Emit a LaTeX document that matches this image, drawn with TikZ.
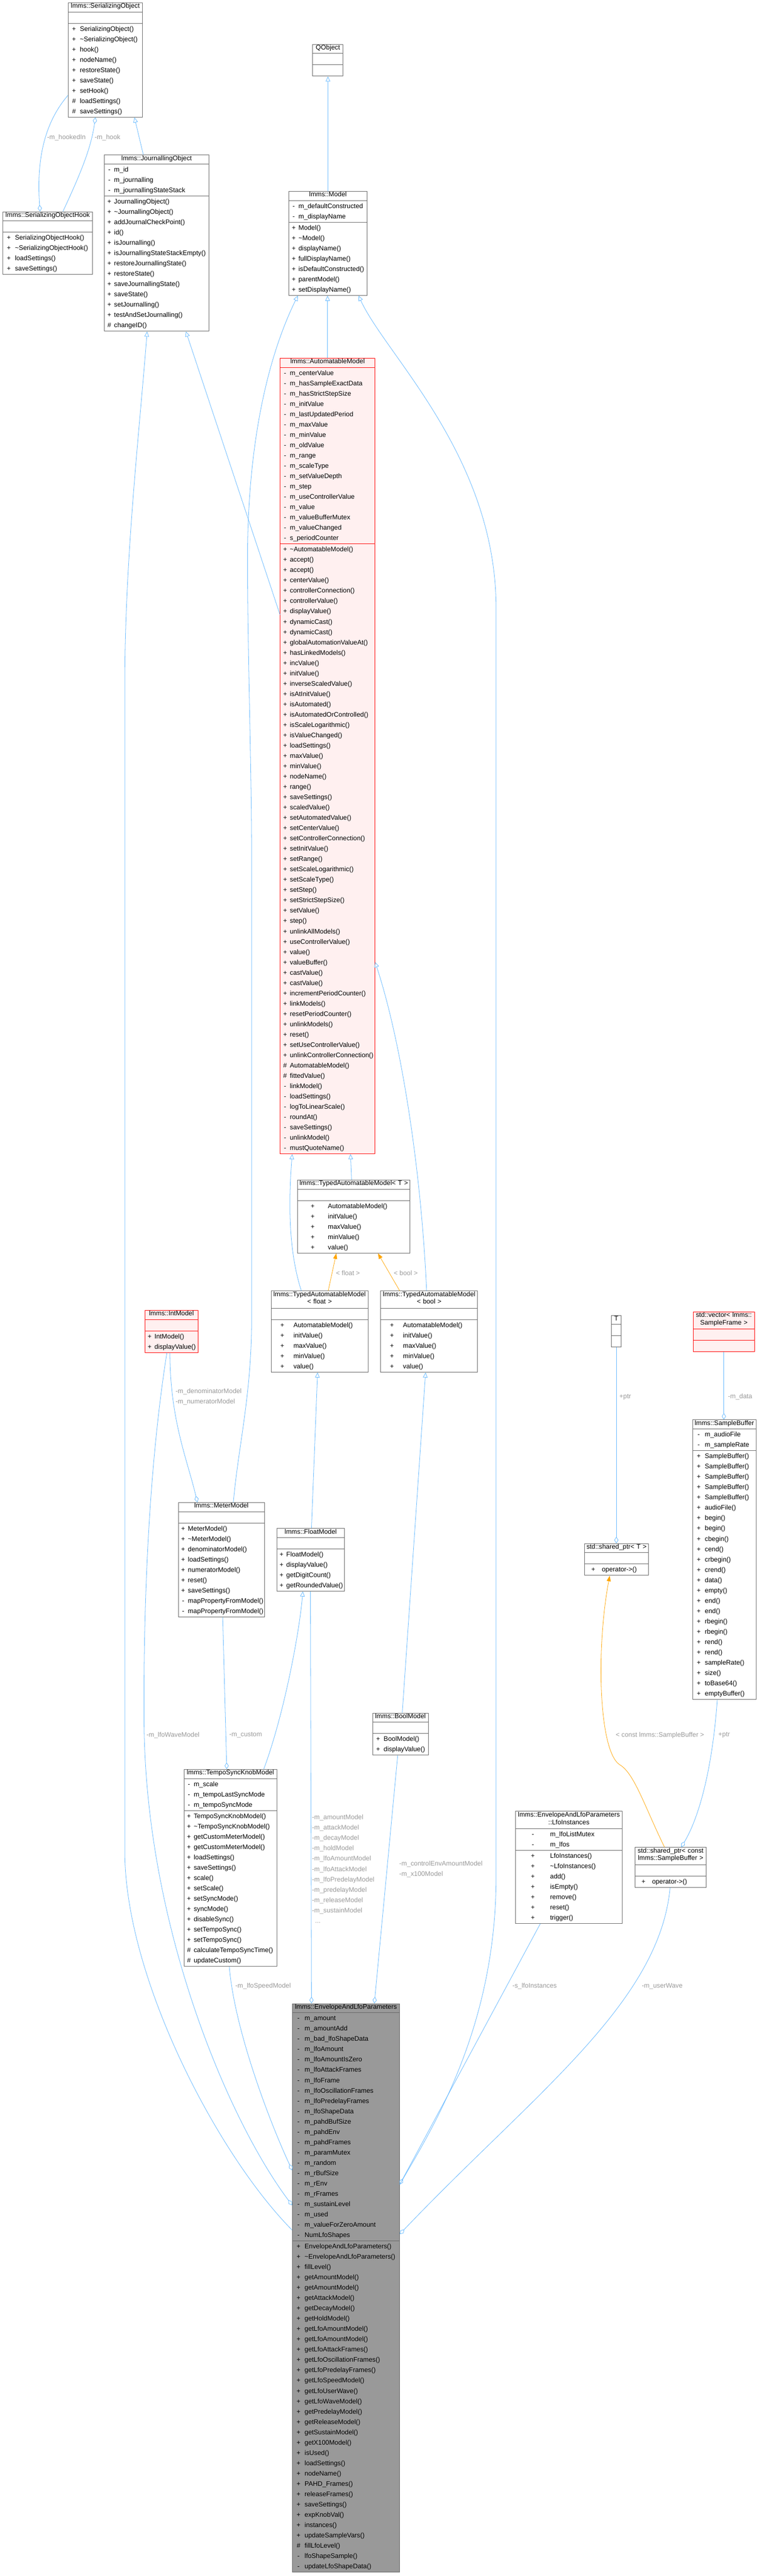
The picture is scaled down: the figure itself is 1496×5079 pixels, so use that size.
\documentclass[tikz,border=0pt]{standalone}
\usepackage{fontspec}
\setmainfont{Liberation Sans}
\usepackage{array}
\usetikzlibrary{shapes.multipart,arrows.meta}
\definecolor{edgeblue}{HTML}{63B8FF}
\definecolor{boxline}{HTML}{666666}
\definecolor{amfill}{HTML}{FFF0F0}
\definecolor{envfill}{HTML}{999999}
\definecolor{lblgray}{HTML}{9A9A9A}
\definecolor{tmplorange}{HTML}{FFA500}
\newcommand{\dfont}{\fontsize{13}{20.35}\selectfont}
\newcommand{\til}{\textasciitilde}
\newcommand{\ttl}[1]{\hbox to\hsize{\hfil\rule[-6.5pt]{0pt}{16pt}#1\hfil}}
\newcommand{\ttll}[2]{\hbox to\hsize{\hfil\rule[-6.5pt]{0pt}{16pt}#1\hfil}\vskip-5.4pt\hbox to\hsize{\hfil\rule[-7.5pt]{0pt}{0pt}#2\hfil}}
\newcommand{\mrows}[2]{\begin{tabular}{@{}>{\centering\arraybackslash}p{#1pt}@{}l@{}}#2\end{tabular}}
\setlength{\parindent}{0pt}
\begin{document}
\begin{tikzpicture}[x=1pt,y=-1pt]
\tikzset{cls/.style={rectangle split,rectangle split parts=3,draw=boxline,fill=white,line width=1pt,anchor=north west,inner xsep=0pt,inner ysep=0.5pt,align=left,font=\dfont},
 redcls/.style={cls,draw=red,fill=amfill}, envcls/.style={cls,fill=envfill},
 lnk/.style={draw=edgeblue,line width=0.8pt},
 inh/.style={lnk,-{Triangle[open,length=10pt,width=9pt]}},
 agg/.style={lnk,-{Diamond[open,length=13pt,width=8pt]}},
 tmpl/.style={draw=tmplorange,line width=0.8pt,-{Triangle[length=11pt,width=8pt]}},
 lbl/.style={text=lblgray,font=\dfont,inner sep=0pt}}
\useasboundingbox (0,0) rectangle (1496,5079);
\fill[white] (0,0) rectangle (1496,5079);

\node[cls,text width=146pt] (sobj) at (134,5) {\ttl{lmms::SerializingObject}\nodepart{two}\strut\nodepart{three}\mrows{23}{+&SerializingObject()\\+&\til SerializingObject()\\+&hook()\\+&nodeName()\\+&restoreState()\\+&saveState()\\+&setHook()\\\#&loadSettings()\\\#&saveSettings()\\}};
\node[cls,text width=177pt] (hook) at (5,417) {\ttl{lmms::SerializingObjectHook}\nodepart{two}\strut\nodepart{three}\mrows{24}{+&SerializingObjectHook()\\+&\til SerializingObjectHook()\\+&loadSettings()\\+&saveSettings()\\}};
\node[cls,text width=205.5pt] (jobj) at (205.5,305) {\ttl{lmms::JournallingObject}\nodepart{two}\mrows{19}{-&m\_id\\-&m\_journalling\\-&m\_journallingStateStack\\}\nodepart{three}\mrows{19}{+&JournallingObject()\\+&\til JournallingObject()\\+&addJournalCheckPoint()\\+&id()\\+&isJournalling()\\+&isJournallingStateStackEmpty()\\+&restoreJournallingState()\\+&restoreState()\\+&saveJournallingState()\\+&saveState()\\+&setJournalling()\\+&testAndSetJournalling()\\\#&changeID()\\}};
\node[cls,text width=60pt] (qobj) at (616,87) {\ttl{QObject}\nodepart{two}\strut\nodepart{three}\strut};
\node[cls,text width=154pt] (model) at (569,377) {\ttl{lmms::Model}\nodepart{two}\mrows{19}{-&m\_defaultConstructed\\-&m\_displayName\\}\nodepart{three}\mrows{19}{+&Model()\\+&\til Model()\\+&displayName()\\+&fullDisplayName()\\+&isDefaultConstructed()\\+&parentModel()\\+&setDisplayName()\\}};
\node[redcls,text width=186.5pt] (am) at (552,706) {\ttl{lmms::AutomatableModel}\nodepart{two}\mrows{19}{-&m\_centerValue\\-&m\_hasSampleExactData\\-&m\_hasStrictStepSize\\-&m\_initValue\\-&m\_lastUpdatedPeriod\\-&m\_maxValue\\-&m\_minValue\\-&m\_oldValue\\-&m\_range\\-&m\_scaleType\\-&m\_setValueDepth\\-&m\_step\\-&m\_useControllerValue\\-&m\_value\\-&m\_valueBufferMutex\\-&m\_valueChanged\\-&s\_periodCounter\\}\nodepart{three}\mrows{19}{+&\til AutomatableModel()\\+&accept()\\+&accept()\\+&centerValue()\\+&controllerConnection()\\+&controllerValue()\\+&displayValue()\\+&dynamicCast()\\+&dynamicCast()\\+&globalAutomationValueAt()\\+&hasLinkedModels()\\+&incValue()\\+&initValue()\\+&inverseScaledValue()\\+&isAtInitValue()\\+&isAutomated()\\+&isAutomatedOrControlled()\\+&isScaleLogarithmic()\\+&isValueChanged()\\+&loadSettings()\\+&maxValue()\\+&minValue()\\+&nodeName()\\+&range()\\+&saveSettings()\\+&scaledValue()\\+&setAutomatedValue()\\+&setCenterValue()\\+&setControllerConnection()\\+&setInitValue()\\+&setRange()\\+&setScaleLogarithmic()\\+&setScaleType()\\+&setStep()\\+&setStrictStepSize()\\+&setValue()\\+&step()\\+&unlinkAllModels()\\+&useControllerValue()\\+&value()\\+&valueBuffer()\\+&castValue()\\+&castValue()\\+&incrementPeriodCounter()\\+&linkModels()\\+&resetPeriodCounter()\\+&unlinkModels()\\+&reset()\\+&setUseControllerValue()\\+&unlinkControllerConnection()\\\#&AutomatableModel()\\\#&fittedValue()\\-&linkModel()\\-&loadSettings()\\-&logToLinearScale()\\-&roundAt()\\-&saveSettings()\\-&unlinkModel()\\-&mustQuoteName()\\}};
\node[cls,text width=222pt] (tamT) at (586,2326) {\ttl{lmms::TypedAutomatableModel< T >}\nodepart{two}\strut\nodepart{three}\mrows{60}{+&AutomatableModel()\\+&initValue()\\+&maxValue()\\+&minValue()\\+&value()\\}};
\node[cls,text width=191pt] (tamF) at (534,2545) {\ttll{lmms::TypedAutomatableModel}{< float >}\nodepart{two}\strut\nodepart{three}\mrows{44}{+&AutomatableModel()\\+&initValue()\\+&maxValue()\\+&minValue()\\+&value()\\}};
\node[cls,text width=191pt] (tamB) at (750,2545) {\ttll{lmms::TypedAutomatableModel}{< bool >}\nodepart{two}\strut\nodepart{three}\mrows{44}{+&AutomatableModel()\\+&initValue()\\+&maxValue()\\+&minValue()\\+&value()\\}};
\node[redcls,text width=105pt] (intm) at (285,2583) {\ttl{lmms::IntModel}\nodepart{two}\strut\nodepart{three}\mrows{19}{+&IntModel()\\+&displayValue()\\}};
\node[cls,text width=170pt] (meter) at (351,2962) {\ttl{lmms::MeterModel}\nodepart{two}\strut\nodepart{three}\mrows{19}{+&MeterModel()\\+&\til MeterModel()\\+&denominatorModel()\\+&loadSettings()\\+&numeratorModel()\\+&reset()\\+&saveSettings()\\-&mapPropertyFromModel()\\-&mapPropertyFromModel()\\}};
\node[cls,text width=134pt] (floatm) at (545,3013) {\ttl{lmms::FloatModel}\nodepart{two}\strut\nodepart{three}\mrows{19}{+&FloatModel()\\+&displayValue()\\+&getDigitCount()\\+&getRoundedValue()\\}};
\node[cls,text width=110pt] (boolm) at (734,3377) {\ttl{lmms::BoolModel}\nodepart{two}\strut\nodepart{three}\mrows{22}{+&BoolModel()\\+&displayValue()\\}};
\node[cls,text width=182.5pt] (tsk) at (362.5,3488) {\ttl{lmms::TempoSyncKnobModel}\nodepart{two}\mrows{19}{-&m\_scale\\-&m\_tempoLastSyncMode\\-&m\_tempoSyncMode\\}\nodepart{three}\mrows{19}{+&TempoSyncKnobModel()\\+&\til TempoSyncKnobModel()\\+&getCustomMeterModel()\\+&getCustomMeterModel()\\+&loadSettings()\\+&saveSettings()\\+&scale()\\+&setScale()\\+&setSyncMode()\\+&syncMode()\\+&disableSync()\\+&setTempoSync()\\+&setTempoSync()\\\#&calculateTempoSyncTime()\\\#&updateCustom()\\}};
\node[cls,text width=19pt] (tbox) at (1205,2593) {\ttl{T}\nodepart{two}\strut\nodepart{three}\strut};
\node[redcls,text width=121pt] (vec) at (1366,2586) {\ttll{std::vector< lmms::}{SampleFrame >}\nodepart{two}\strut\nodepart{three}\strut};
\node[cls,text width=125pt] (sbuf) at (1365,2799) {\ttl{lmms::SampleBuffer}\nodepart{two}\mrows{24}{-&m\_audioFile\\-&m\_sampleRate\\}\nodepart{three}\mrows{24}{+&SampleBuffer()\\+&SampleBuffer()\\+&SampleBuffer()\\+&SampleBuffer()\\+&SampleBuffer()\\+&audioFile()\\+&begin()\\+&begin()\\+&cbegin()\\+&cend()\\+&crbegin()\\+&crend()\\+&data()\\+&empty()\\+&end()\\+&end()\\+&rbegin()\\+&rbegin()\\+&rend()\\+&rend()\\+&sampleRate()\\+&size()\\+&toBase64()\\+&emptyBuffer()\\}};
\node[cls,text width=126pt] (sptrT) at (1152,3043) {\ttl{std::shared\_ptr< T >}\nodepart{two}\strut\nodepart{three}\mrows{34}{+&operator->()\\}};
\node[cls,text width=210pt] (lfoi) at (1016,3571) {\ttll{lmms::EnvelopeAndLfoParameters}{::LfoInstances}\nodepart{two}\mrows{68}{-&m\_lfoListMutex\\-&m\_lfos\\}\nodepart{three}\mrows{68}{+&LfoInstances()\\+&\til LfoInstances()\\+&add()\\+&isEmpty()\\+&remove()\\+&reset()\\+&trigger()\\}};
\node[cls,text width=141pt] (sptrC) at (1251,3642) {\ttll{std::shared\_ptr< const}{lmms::SampleBuffer >}\nodepart{two}\strut\nodepart{three}\mrows{34}{+&operator->()\\}};
\node[envcls,text width=211pt] (env) at (576,3950) {\ttl{lmms::EnvelopeAndLfoParameters}\nodepart{two}\mrows{24}{-&m\_amount\\-&m\_amountAdd\\-&m\_bad\_lfoShapeData\\-&m\_lfoAmount\\-&m\_lfoAmountIsZero\\-&m\_lfoAttackFrames\\-&m\_lfoFrame\\-&m\_lfoOscillationFrames\\-&m\_lfoPredelayFrames\\-&m\_lfoShapeData\\-&m\_pahdBufSize\\-&m\_pahdEnv\\-&m\_pahdFrames\\-&m\_paramMutex\\-&m\_random\\-&m\_rBufSize\\-&m\_rEnv\\-&m\_rFrames\\-&m\_sustainLevel\\-&m\_used\\-&m\_valueForZeroAmount\\-&NumLfoShapes\\}\nodepart{three}\mrows{24}{+&EnvelopeAndLfoParameters()\\+&\til EnvelopeAndLfoParameters()\\+&fillLevel()\\+&getAmountModel()\\+&getAmountModel()\\+&getAttackModel()\\+&getDecayModel()\\+&getHoldModel()\\+&getLfoAmountModel()\\+&getLfoAmountModel()\\+&getLfoAttackFrames()\\+&getLfoOscillationFrames()\\+&getLfoPredelayFrames()\\+&getLfoSpeedModel()\\+&getLfoUserWave()\\+&getLfoWaveModel()\\+&getPredelayModel()\\+&getReleaseModel()\\+&getSustainModel()\\+&getX100Model()\\+&isUsed()\\+&loadSettings()\\+&nodeName()\\+&PAHD\_Frames()\\+&releaseFrames()\\+&saveSettings()\\+&expKnobVal()\\+&instances()\\+&updateSampleVars()\\\#&fillLfoLevel()\\-&lfoShapeSample()\\-&updateLfoShapeData()\\}};

\draw[inh] ([xshift=77pt]jobj.north west) -- ([xshift=131pt]sobj.south west);
\draw[agg] ([yshift=-183pt]sobj.north west) .. controls (85,245) and (72,320) .. ([xshift=74pt]hook.north west);
\draw[agg] ([xshift=119pt]hook.north west) .. controls (160,340) and (180,290) .. ([xshift=54pt]sobj.south west);
\draw[inh] (model.north) -- (qobj.south);
\draw[inh] (am.north) -- (am.north |- model.south);
\draw[inh] ([yshift=-506pt]am.north west) -- ([xshift=161pt]jobj.south west);
\draw[inh] ([xshift=109pt]meter.north west) .. controls (470,2850) and (496,2750) .. (496,2600) -- (496,1700) .. controls (496,1500) and (488,1300) .. (488,1100) .. controls (488,900) and (520,720) .. ([xshift=18pt]model.south west);
\draw[inh] ([yshift=-447pt]env.north west) .. controls (430,4250) and (246,3900) .. (246,3650) -- (246,1350) .. controls (246,1100) and (275,850) .. ([xshift=84.5pt]jobj.south west);
\draw[inh] ([yshift=-357pt]env.north east) .. controls (850,4200) and (978,4000) .. (978,3700) -- (978,1200) .. controls (978,900) and (760,700) .. ([xshift=138pt]model.south west);
\draw[inh] ([xshift=60pt]tamF.north west) .. controls (570,2470) and (568,2380) .. ([xshift=24pt]am.south west);
\draw[inh] ([xshift=107pt]tamT.north west) -- ([xshift=139pt]am.south west);
\draw[inh] ([xshift=91pt]tamB.north west) .. controls (830,2300) and (790,2050) .. ([yshift=-1191pt]am.north east);
\draw[tmpl] ([xshift=113pt]tamF.north west) -- ([xshift=77pt]tamT.south west);
\draw[tmpl] ([xshift=38pt]tamB.north west) -- ([xshift=159pt]tamT.south west);
\draw[inh] ([xshift=69pt]floatm.north west) -- ([xshift=92pt]tamF.south west);
\draw[inh] ([xshift=59pt]boolm.north west) -- ([xshift=89pt]tamB.south west);
\draw[inh] ([xshift=157.5pt]tsk.north west) .. controls (560,3380) and (590,3220) .. ([xshift=52pt]floatm.south west);
\draw[agg] ([xshift=50pt]intm.south west) .. controls (335,2800) and (370,2880) .. ([xshift=38pt]meter.north west);
\draw[agg] ([xshift=44pt]intm.south west) .. controls (300,2850) and (282,3100) .. (284,3400) .. controls (288,3800) and (450,4180) .. ([yshift=-398pt]env.north west);
\draw[agg] ([xshift=88pt]meter.south west) -- ([xshift=84.5pt]tsk.north west);
\draw[agg] ([xshift=89.5pt]tsk.south west) .. controls (462,4000) and (530,4180) .. ([yshift=-329pt]env.north west);
\draw[agg] ([xshift=67pt]floatm.south west) -- ([xshift=38pt]env.north west);
\draw[agg] ([xshift=50pt]boolm.south west) -- ([xshift=162pt]env.north west);
\draw[agg] ([xshift=49pt]lfoi.south west) -- ([yshift=-357pt]env.north east);
\draw[agg] ([xshift=70pt]sptrC.south west) .. controls (1300,3950) and (1050,4130) .. ([yshift=-455pt]env.north east);
\draw[agg] (tbox.south) -- ([xshift=63pt]sptrT.north west);
\draw[agg] ([xshift=61pt]vec.south west) -- ([xshift=62pt]sbuf.north west);
\draw[agg] ([xshift=49pt]sbuf.south west) .. controls (1405,3480) and (1380,3580) .. ([xshift=92pt]sptrC.north west);
\draw[tmpl] ([xshift=59pt]sptrC.north west) .. controls (1270,3560) and (1250,3495) .. (1221,3479) .. controls (1180,3450) and (1175,3250) .. ([xshift=50pt]sptrT.south west);

\node[lbl] (lhookin) at (131,271) {-m\_hookedIn}; \node[lbl] (lhook) at (212,271) {-m\_hook};
\node[lbl] (lfloat) at (686,2510) {< float >}; \node[lbl] (lbool) at (800,2510) {< bool >};
\node[lbl,anchor=north west,align=left] (lmeter) at (346,2738) {-m\_denominatorModel\\-m\_numeratorModel};
\node[lbl] (lwave) at (341,3421) {-m\_lfoWaveModel}; \node[lbl,anchor=west] (lcustom) at (452,3421) {-m\_custom};
\node[lbl,anchor=west] (lspeed) at (464,3916) {-m\_lfoSpeedModel};
\node[lbl,anchor=north west,align=left] (lfmods) at (615,3578) {-m\_amountModel\\-m\_attackModel\\-m\_decayModel\\-m\_holdModel\\-m\_lfoAmountModel\\-m\_lfoAttackModel\\-m\_lfoPredelayModel\\-m\_predelayModel\\-m\_releaseModel\\-m\_sustainModel\\\hspace*{6pt}...};
\node[lbl,anchor=north west,align=left] (lbmods) at (787,3669) {-m\_controlEnvAmountModel\\-m\_x100Model};
\node[lbl,anchor=west] (lptr) at (1221,2754) {+ptr}; \node[lbl,anchor=west] (ldata) at (1435,2754) {-m\_data};
\node[lbl,anchor=west] (lsptr) at (1416,3421) {+ptr}; \node[lbl] (lconst) at (1301,3421) {< const lmms::SampleBuffer >};
\node[lbl,anchor=west] (llfoi) at (1010,3916) {-s\_lfoInstances}; \node[lbl,anchor=west] (luser) at (1265,3916) {-m\_userWave};
\end{tikzpicture}
\end{document}
